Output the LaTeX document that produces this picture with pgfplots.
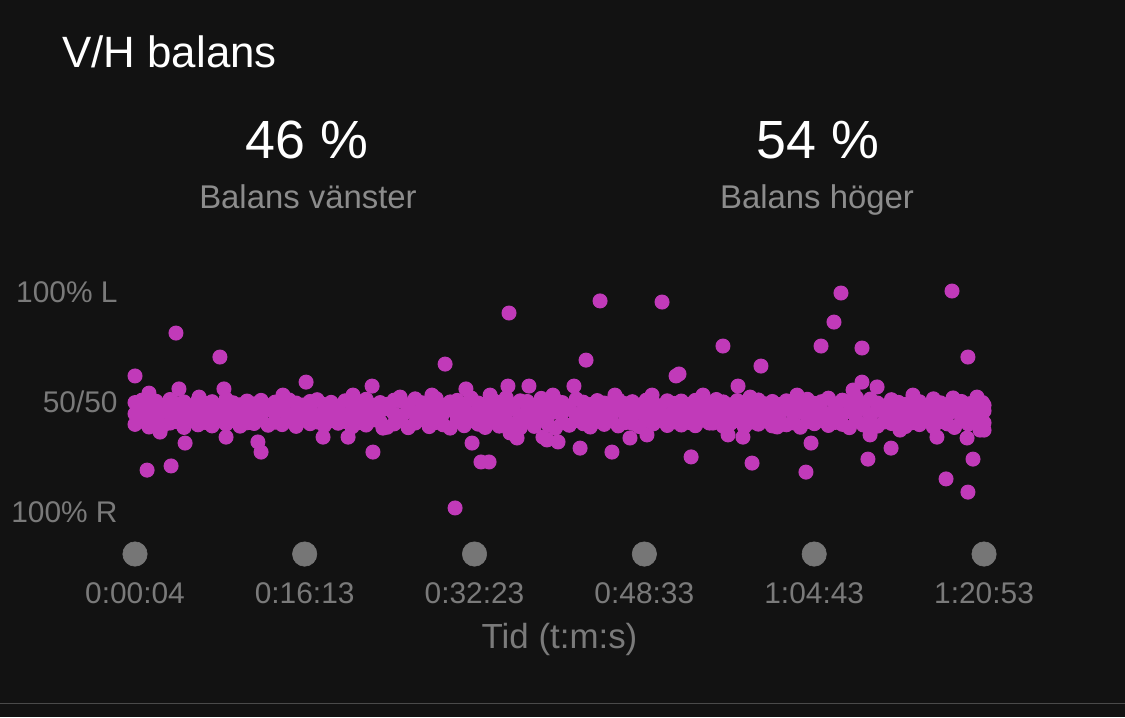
\documentclass[border=0pt]{standalone}
\usepackage{fontspec}
\setmainfont{Liberation Sans}
\usepackage{pgfplots}
\usepackage{pgfplotstable}
\pgfplotsset{compat=1.18}

\definecolor{bgc}{HTML}{121212}
\definecolor{dotc}{HTML}{C13AB9}
\definecolor{subc}{HTML}{8C8C8C}
\definecolor{labc}{HTML}{7A7A7A}
\definecolor{tickc}{HTML}{767676}
\definecolor{linec}{HTML}{4A4A4A}

% dense band: time (s), three readings of left balance (%)
\pgfplotstableread{
t a b c
4 50.2 45.1 40.3
44 51.3 46.8 41.7
84 49.4 44.2 39.1
124 50.8 45.9 42.0
164 48.9 46.5 39.8
204 51.6 44.6 40.9
244 49.7 47.1 41.5
284 50.5 45.3 38.9
324 48.7 46.2 42.3
364 51.1 44.9 40.1
404 49.9 46.7 41.2
444 50.6 45.5 39.6
484 48.5 44.3 41.9
524 51.8 46.1 40.4
564 50.1 47.3 42.1
604 49.2 45.0 39.5
644 50.9 46.4 41.0
684 49.6 44.7 40.7
724 51.2 45.8 42.4
764 48.8 46.9 39.9
804 50.4 45.2 41.3
844 49.5 47.0 40.2
884 51.4 44.8 41.8
924 50.0 46.3 39.4
964 49.1 45.6 42.2
1004 50.7 46.6 40.6
1044 51.5 44.5 41.4
1084 49.3 45.7 39.7
1124 50.3 47.2 42.0
1164 48.6 46.0 40.8
1204 51.0 44.4 41.6
1244 49.8 45.4 39.2
1284 50.6 46.8 41.1
1324 51.7 45.9 40.0
1364 49.0 44.6 42.3
1404 50.2 46.4 41.5
1444 49.4 47.4 39.0
1484 51.3 45.1 40.5
1524 50.8 44.1 41.9
1564 48.7 46.2 38.8
1604 51.9 45.5 40.9
1644 50.1 47.6 42.5
1684 49.7 44.9 39.3
1724 52.0 46.0 41.2
1764 48.9 45.3 40.1
1804 50.5 47.5 38.6
1844 51.2 44.2 41.8
1884 49.6 46.6 39.7
1924 52.3 45.0 42.0
1964 50.0 47.2 40.4
2004 48.4 44.5 38.9
2044 51.6 46.9 41.3
2084 50.3 43.8 39.5
2124 52.4 45.7 42.2
2164 49.2 47.8 40.0
2204 51.0 44.0 38.7
2244 50.7 46.3 41.6
2284 48.8 45.2 39.4
2324 52.1 47.0 42.4
2364 49.9 44.3 40.2
2404 51.4 46.1 38.5
2444 50.2 45.6 41.0
2484 48.6 47.3 39.9
2524 51.8 44.7 42.1
2564 50.4 46.5 40.6
2604 49.3 45.1 39.1
2644 51.1 44.4 41.7
2684 50.0 46.8 40.3
2724 48.9 45.3 42.0
2764 51.5 47.1 39.6
2804 49.7 44.6 41.1
2844 50.6 46.2 40.8
2884 49.1 45.5 39.3
2924 51.3 44.9 41.9
2964 50.1 46.7 40.5
3004 48.7 45.8 42.3
3044 51.0 44.2 39.8
3084 49.8 47.0 41.4
3124 50.9 45.4 40.0
3164 49.4 46.3 41.2
3204 51.2 44.8 39.7
3244 50.3 46.0 42.2
3284 49.0 45.2 40.9
3324 51.6 46.9 41.5
3364 50.5 44.5 39.4
3404 49.2 45.9 40.7
3444 51.1 47.2 42.0
3484 50.0 44.3 39.2
3524 48.8 46.4 41.3
3564 51.4 45.0 40.4
3604 49.6 46.7 41.8
3644 50.7 44.6 39.6
3684 49.3 45.7 42.4
3724 51.0 47.3 40.1
3764 50.2 44.9 41.0
3804 48.9 46.1 39.0
3844 51.7 45.3 41.6
3884 49.8 44.4 40.6
3924 50.6 46.6 42.1
3964 52.2 45.1 39.8
4004 49.5 47.4 41.2
4044 51.3 44.7 40.3
4084 50.4 46.2 38.8
4124 52.5 45.6 41.9
4164 49.1 47.7 40.0
4204 51.8 44.1 42.3
4244 50.0 46.8 39.5
4284 48.7 45.4 41.4
4324 51.5 44.8 40.7
4364 50.3 47.0 42.0
4404 49.4 45.2 39.3
4444 51.2 46.5 41.1
4484 50.6 44.3 40.2
4524 48.9 46.0 42.4
4564 51.9 45.7 39.1
4604 50.1 47.1 41.6
4644 49.2 44.6 40.5
4684 51.4 46.3 38.9
4724 50.7 45.0 41.8
4764 49.6 46.9 40.4
4804 51.1 44.4 42.2
4844 50.2 45.8 39.9
4853 49.0 46.4 41.0
}\band

% scattered readings away from the band
\pgfplotstableread{
t L
238 81.8
489 70.9
4 62.3
981 59.5
1358 57.7
255 56.4
84 54.5
290 31.8
73 19.5
210 21.4
524 34.5
706 32.3
724 27.7
1078 34.5
1221 34.5
1363 27.7
147 36.8
1420 38.6
512 56.4
370 52.7
849 53.6
1249 53.6
1518 52.7
2140 90.9
2660 96.4
3014 95.9
1775 67.7
2580 69.5
3094 62.3
3111 63.2
2511 57.7
2134 57.7
2254 57.7
1894 56.4
1929 31.8
1980 23.2
2026 23.2
1832 2.3
2546 29.5
2728 27.7
3180 25.5
2831 34.1
2928 35.5
2186 34.1
2357 33.2
2420 32.3
1700 53.6
2032 53.6
2391 53.6
2745 53.6
2957 53.6
3248 53.6
2146 36.4
2334 34.5
4036 100.0
4670 100.9
3996 86.8
3362 75.9
3922 75.9
4156 75.0
4761 70.9
3579 66.8
3448 57.7
4156 59.5
4242 57.3
3865 31.8
3528 22.7
3836 18.6
4190 24.5
4322 29.5
4636 15.5
4761 9.5
4790 24.5
4830 37.7
3391 35.5
3476 34.5
4756 34.1
4202 35.5
4853 37.7
3517 52.7
3785 53.6
4105 55.9
4447 53.6
4676 52.3
4813 52.7
3305 40.9
3671 39.1
4373 37.7
4584 34.5
}\outl

\begin{document}
\begin{tikzpicture}
\begin{scope}[x=0.5bp,y=-0.5bp]
\path[use as bounding box, fill=bgc] (0,0) rectangle (1125,717);
\draw[linec, line width=0.5bp] (0,703) -- (1125,703);
\node[anchor=base west, inner sep=0, text=white, font=\fontsize{22}{26}\selectfont] at (62,67) {V/H balans};
\node[anchor=base, inner sep=0, text=white, font=\fontsize{27}{32}\selectfont] at (307,158) {46 \%};
\node[anchor=base, inner sep=0, text=subc, font=\fontsize{16.5}{20}\selectfont] at (308,208) {Balans vänster};
\node[anchor=base, inner sep=0, text=white, font=\fontsize{27}{32}\selectfont] at (818,158) {54 \%};
\node[anchor=base, inner sep=0, text=subc, font=\fontsize{16.5}{20}\selectfont] at (817,208) {Balans höger};
\end{scope}
\begin{axis}[
  at={(67.5bp,-285.1bp)}, anchor=south west,
  scale only axis, width=424.5bp, height=149.6bp,
  xmin=4, xmax=4853, ymin=-26, ymax=110,
  axis line style={draw=none},
  major tick length=0pt,
  xtick={4,973,1943,2913,3883,4853},
  xticklabels={0:00:04,0:16:13,0:32:23,0:48:33,1:04:43,1:20:53},
  xticklabel style={anchor=base, inner sep=0pt, yshift=-16.4bp, text=labc, font=\fontsize{15}{18}\selectfont},
  ytick={0,50,100},
  yticklabels={100\% R,50/50,100\% L},
  yticklabel style={anchor=base east, inner sep=0pt, xshift=-8.5bp, yshift=-4.5bp, text=labc, font=\fontsize{15}{18}\selectfont},
  xlabel={Tid (t:m:s)},
  xlabel style={at={(axis description cs:0.5,0)}, anchor=base, inner sep=0pt, yshift=-38.9bp, text=labc, font=\fontsize{17.5}{21}\selectfont},
  dots/.style={only marks, mark=*, color=dotc, mark size=3.5bp, mark options={draw=dotc, fill=dotc, line width=0.5bp}},
]
\addplot[only marks, mark=*, color=tickc, mark size=6.1bp, mark options={draw=tickc, fill=tickc, line width=0.3bp}]
  coordinates {(4,-18.64) (973,-18.64) (1943,-18.64) (2913,-18.64) (3883,-18.64) (4853,-18.64)};
\addplot[dots] table[x=t, y=a] {\band};
\addplot[dots] table[x=t, y=b] {\band};
\addplot[dots] table[x=t, y=c] {\band};
\addplot[dots] table[x=t, y=L] {\outl};
\end{axis}
\end{tikzpicture}
\end{document}
